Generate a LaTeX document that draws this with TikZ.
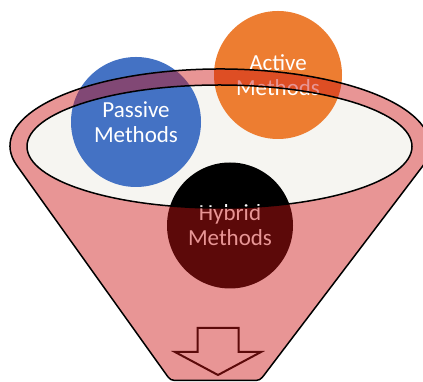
\documentclass[tikz,border=0pt]{standalone}
\usepackage{fontspec}
\setmainfont{Carlito}
\definecolor{funpink}{RGB}{204,22,22}
\definecolor{pasblue}{RGB}{68,114,196}
\definecolor{actorange}{RGB}{237,125,49}
\definecolor{rimwhite}{RGB}{246,245,241}
\definecolor{arrowred}{RGB}{92,10,10}
\begin{document}
\begin{tikzpicture}[x=1pt,y=1pt,
  methnode/.style={circle, inner sep=0pt, align=center, text=white,
    font=\fontsize{23}{25}\selectfont},
  outline/.style={draw=black, line width=1.5pt, line join=round},
  overlay pink/.style={fill=funpink, fill opacity=0.45}]
\fill[white] (0,0) rectangle (423,382);
\useasboundingbox (0,0) rectangle (423,382);
\coordinate (LT) at ({220+210*cos(194.69)},{236+77*sin(194.69)});
\coordinate (R1) at (265.4,8.67);
\coordinate (BR) at (260,1.5);
\coordinate (R2) at (251,1.5);
\coordinate (L2) at (179.5,1.5);
\coordinate (BL) at (170.5,1.5);
\coordinate (L1) at (165.3,8.82);
\coordinate (IC) at (219.5,235.5);
% inner opening
\fill[rimwhite] (IC) ellipse[x radius=192.5pt, y radius=61.5pt];
% circles
\node[methnode, fill=pasblue, minimum size=130pt] (passive) at (136,260) {Passive\\Methods};
\node[methnode, fill=actorange, minimum size=128pt] (active) at (278,307) {Active\\Methods};
\node[methnode, fill=black, minimum size=126pt] (hybrid) at (230,156.5) {Hybrid\\Methods};
% translucent funnel body
\fill[overlay pink, even odd rule]
  (LT) arc[start angle=194.69, end angle=-15.55, x radius=210pt, y radius=77pt]
  -- (R1) .. controls (BR) .. (R2) -- (L2) .. controls (BL) .. (L1) -- cycle
  (IC) ellipse[x radius=192.5pt, y radius=61.5pt];
% outlines
\draw[outline]
  (LT) arc[start angle=194.69, end angle=-15.55, x radius=210pt, y radius=77pt]
  -- (R1) .. controls (BR) .. (R2) -- (L2) .. controls (BL) .. (L1) -- cycle;
\draw[outline] (IC) ellipse[x radius=192.5pt, y radius=61.5pt];
% hollow down arrow
\draw[arrowred, line width=2pt, line join=miter]
  (197.5,54) -- (238.5,54) -- (238.5,30) -- (261,30) -- (218,7) -- (175,30) -- (197.5,30) -- cycle;
\end{tikzpicture}
\end{document}
